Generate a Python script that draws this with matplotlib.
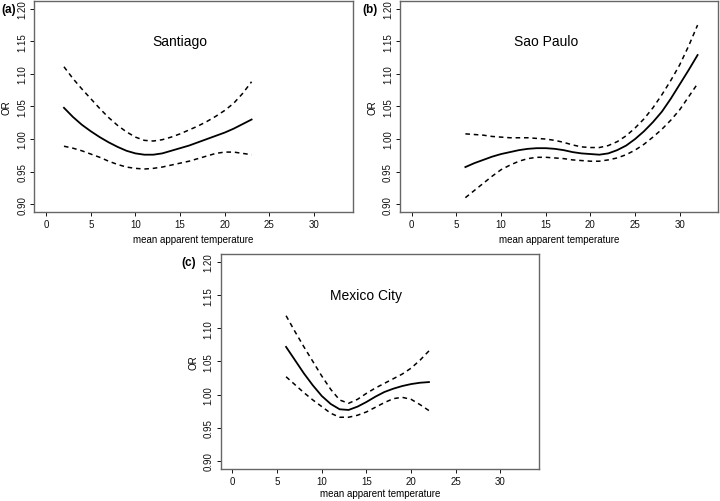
import matplotlib
matplotlib.use("Agg")
import matplotlib.pyplot as plt

plt.rcParams['font.family'] = ['Liberation Sans', 'DejaVu Sans']

# Santiago
sa_x = list(range(2, 24))
sa_or = [1.048, 1.034, 1.022, 1.012, 1.003, 0.995, 0.988, 0.982, 0.978, 0.976, 0.976,
         0.978, 0.982, 0.986, 0.990, 0.995, 1.000, 1.005, 1.010, 1.016, 1.023, 1.030]
sa_hi = [1.111, 1.093, 1.077, 1.062, 1.047, 1.033, 1.021, 1.011, 1.003, 0.998, 0.997,
         0.999, 1.003, 1.008, 1.014, 1.020, 1.027, 1.035, 1.044, 1.055, 1.070, 1.088]
sa_lo = [0.989, 0.986, 0.982, 0.977, 0.972, 0.966, 0.961, 0.957, 0.955, 0.954, 0.955,
         0.957, 0.960, 0.963, 0.966, 0.970, 0.974, 0.978, 0.980, 0.980, 0.978, 0.976]

# Sao Paulo
sp_x = list(range(6, 33))
sp_or = [0.957, 0.963, 0.968, 0.973, 0.977, 0.980, 0.983, 0.985, 0.986, 0.986, 0.985,
         0.983, 0.980, 0.978, 0.977, 0.976, 0.978, 0.983, 0.990, 1.000, 1.012, 1.026,
         1.042, 1.062, 1.084, 1.106, 1.129]
sp_hi = [1.008, 1.007, 1.006, 1.004, 1.003, 1.002, 1.002, 1.002, 1.001, 1.000, 0.998,
         0.995, 0.991, 0.988, 0.987, 0.987, 0.990, 0.996, 1.005, 1.017, 1.031, 1.048,
         1.068, 1.090, 1.114, 1.143, 1.175]
sp_lo = [0.910, 0.921, 0.932, 0.943, 0.953, 0.960, 0.966, 0.970, 0.972, 0.972, 0.971,
         0.970, 0.968, 0.967, 0.966, 0.966, 0.968, 0.971, 0.976, 0.983, 0.992, 1.003,
         1.015, 1.029, 1.045, 1.065, 1.085]

# Mexico City
mc_x = list(range(6, 23))
mc_or = [1.072, 1.052, 1.032, 1.014, 0.998, 0.986, 0.978, 0.977, 0.982, 0.989, 0.997,
         1.004, 1.009, 1.013, 1.016, 1.018, 1.019]
mc_hi = [1.119, 1.095, 1.072, 1.050, 1.028, 1.008, 0.992, 0.987, 0.993, 1.002, 1.010,
         1.017, 1.024, 1.031, 1.040, 1.052, 1.066]
mc_lo = [1.027, 1.015, 1.003, 0.992, 0.982, 0.972, 0.966, 0.966, 0.969, 0.974, 0.981,
         0.988, 0.994, 0.996, 0.993, 0.985, 0.976]

# tag, title, data, axes box (l, t, r, b in px), xlabel pad, tag x in px
panels = [
    ("(a)", "Santiago", sa_x, sa_or, sa_hi, sa_lo, [34.3, 2, 352.7, 213], 3.5, 1),
    ("(b)", "Sao Paulo", sp_x, sp_or, sp_hi, sp_lo, [400, 2, 718.3, 213], 3.5, 362),
    ("(c)", "Mexico City", mc_x, mc_or, mc_hi, mc_lo, [220.7, 255, 539, 470], 1.5, 181),
]

W, H = 720, 502
fig = plt.figure(figsize=(W / 100, H / 100), dpi=100)

xticks = [0, 5, 10, 15, 20, 25, 30]
yticks = [0.90, 0.95, 1.00, 1.05, 1.10, 1.15, 1.20]

for tag, city, x, y, hi, lo, box, xpad, tagx in panels:
    l, t, r, b = box
    ax = fig.add_axes([l / W, 1 - b / H, (r - l) / W, (b - t) / H])
    ax.plot(x, y, color='black', lw=1.3)
    ax.plot(x, hi, color='black', lw=1.1, ls=(0, (3, 2.5)))
    ax.plot(x, lo, color='black', lw=1.1, ls=(0, (3, 2.5)))
    ax.set_xlim(-1.32, 34.32)
    ax.set_ylim(0.888, 1.212)
    ax.set_xticks(xticks)
    ax.set_yticks(yticks)
    ax.set_yticklabels([f"{v:.2f}" for v in yticks], rotation=90, va='center')
    ax.tick_params(length=3, width=0.7, labelsize=7, colors='#111111', pad=2)
    for s in ax.spines.values():
        s.set_color('#666666')
        s.set_linewidth(1.0)
    ax.set_xlabel("mean apparent temperature", fontsize=7, labelpad=xpad)
    ax.set_ylabel("OR", fontsize=7, labelpad=4)
    ax.text(15, 1.15, city, ha='center', va='center', fontsize=10)
    fig.text(tagx / W, 1 - (t + 8) / H, tag,
             fontsize=8.5, fontweight='bold', ha='left', va='center')

fig.savefig("out.png", dpi=100)
